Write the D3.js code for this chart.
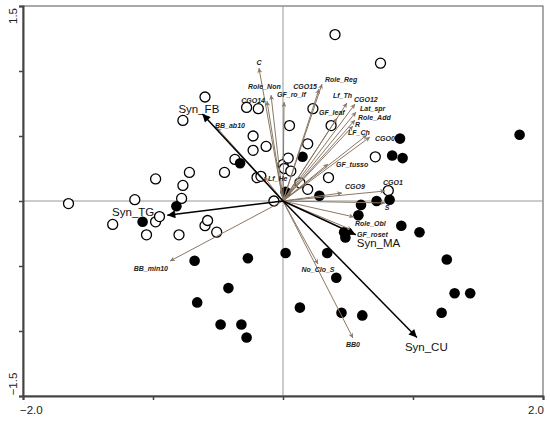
<!DOCTYPE html>
<html>
<head>
<meta charset="utf-8">
<script src="https://cdn.jsdelivr.net/npm/d3@7"></script>
<style>
  body { margin: 0; background: #fff; }
  svg { display: block; font-family: Arial, "Liberation Sans", sans-serif; }
</style>
</head>
<body>
<svg id="chart" width="550" height="421"></svg>
<script>
// sites, group 1 (open circles)
const openPts = [
  [-1.65,-0.02],[-1.31,-0.18],[-1.14,0.01],[-1.05,-0.26],[-0.98,-0.16],[-0.95,-0.12],
  [-0.80,-0.26],[-0.78,0.02],[-0.77,0.12],[-0.98,0.17],[-0.72,0.22],[-0.77,0.62],
  [-0.60,0.80],[-0.60,-0.19],[-0.58,-0.15],[-0.51,-0.24],[-0.45,0.22],[-0.37,0.32],
  [-0.28,0.72],[-0.19,0.71],[-0.23,0.50],[-0.23,0.39],[-0.13,0.42],[-0.20,0.18],
  [-0.17,0.19],[-0.07,0.00],[0.00,0.28],[0.01,0.25],[0.06,0.23],[0.04,0.33],
  [0.05,0.58],[0.13,0.14],[0.19,0.09],[0.19,0.44],[0.23,0.71],[0.37,0.58],
  [0.35,0.18],[0.40,1.28],[0.75,1.06],[0.71,0.34],[0.81,0.08]
]

// sites, group 2 (filled circles)
const filledPts = [
  [-1.08,-0.16],[-0.82,-0.04],[-0.33,0.29],[-0.68,-0.46],[-0.27,-0.44],[-0.42,-0.67],
  [-0.66,-0.78],[-0.48,-0.95],[-0.32,-0.95],[-0.28,-1.05],[0.02,0.07],[0.15,0.34],
  [0.28,0.04],[0.60,-0.03],[0.72,0.00],[0.82,0.01],[0.58,-0.11],[0.90,0.48],
  [0.84,0.35],[0.92,0.33],[1.82,0.51],[0.91,-0.19],[1.05,-0.24],[0.47,-0.24],
  [0.48,-0.28],[0.02,-0.40],[0.34,-0.40],[1.26,-0.45],[0.41,-0.59],[1.32,-0.71],
  [1.44,-0.71],[0.13,-0.82],[0.45,-0.86],[0.61,-0.88],[1.22,-0.86]
]

// trait vectors
const traitNames = ["C","Role_Non","CGO14","GF_ro_lf","CGO15","Role_Reg","Lf_Th","CGO12",
  "GF_leaf","Lat_spr","Role_Add","R","LF_Ch","CGO0","GF_tusso","CGO9","CGO1","S",
  "Role_Obl","GF_roset","No_Clo_S","BB0","BB_min10","BB_ab10","Lf_He"]
const traitX = [-0.185,-0.092,-0.123,0.008,0.277,0.300,0.492,0.554,
  0.415,0.562,0.554,0.538,0.646,0.669,0.346,0.454,0.785,0.785,
  0.546,0.531,0.269,0.538,-0.869,-0.508,-0.146]
const traitY = [1.023,0.815,0.769,0.762,0.862,0.900,0.754,0.746,
  0.638,0.685,0.623,0.577,0.508,0.492,0.285,0.062,0.077,-0.015,
  -0.123,-0.223,-0.485,-1.054,-0.462,0.562,0.185]

// syntaxa vectors
const synNames = ["Syn_FB","Syn_TG","Syn_MA","Syn_CU"]
const synX = [-0.62,-0.89,0.56,1.03]
const synY = [0.67,-0.11,-0.26,-1.05]

// label placement: [dx, dy, anchor]
const traitLab = {
  "C":[0,-3,"middle"], "Role_Non":[-23,-6,"start"], "CGO14":[-2,2,"end"],
  "GF_ro_lf":[-7,-5,"start"], "CGO15":[-2,0,"end"], "Role_Reg":[3,-2,"start"],
  "Lf_Th":[-14,-5,"start"], "CGO12":[-1,-2,"start"], "GF_leaf":[-18,-3,"start"],
  "Lat_spr":[4,-1,"start"], "Role_Add":[3,0,"start"], "R":[2,1,"start"],
  "LF_Ch":[-19,0,"start"], "CGO0":[5,4,"start"], "GF_tusso":[8,3,"start"],
  "CGO9":[3,-4,"start"], "CGO1":[-2,-6,"start"], "S":[2,7,"middle"],
  "Role_Obl":[1,9,"start"], "GF_roset":[5,7,"start"], "No_Clo_S":[0,8,"middle"],
  "BB0":[0,9,"middle"], "BB_min10":[-2,10,"end"], "BB_ab10":[-2,0,"start"],
  "Lf_He":[4,4,"start"]
}
const synLab = { "Syn_FB":[-24,-1,"start"], "Syn_TG":[-13,1,"end"],
  "Syn_MA":[1,12,"start"], "Syn_CU":[-12,13,"start"] }

const svg = d3.select("#chart")

const x = d3.scaleLinear().domain([-2, 2]).range([23, 543])
const y = d3.scaleLinear().domain([-1.5, 1.5]).range([396, 6])

// markers
const defs = svg.append("defs")
defs.append("marker").attr("id", "headGrey")
    .attr("viewBox", "0 0 10 10").attr("refX", 10).attr("refY", 5)
    .attr("markerUnits", "userSpaceOnUse")
    .attr("markerWidth", 6).attr("markerHeight", 5)
    .attr("orient", "auto")
  .append("path").attr("d", "M0,0 L10,5 L0,10 L3,5 Z").attr("fill", "#8a7866")
defs.append("marker").attr("id", "headBlack")
    .attr("viewBox", "0 0 10 10").attr("refX", 10).attr("refY", 5)
    .attr("markerUnits", "userSpaceOnUse")
    .attr("markerWidth", 11).attr("markerHeight", 8)
    .attr("orient", "auto")
  .append("path").attr("d", "M0,0 L10,5 L0,10 Z").attr("fill", "#000")

// frame
svg.append("rect")
    .attr("x", x(-2)).attr("y", y(1.5))
    .attr("width", x(2) - x(-2)).attr("height", y(-1.5) - y(1.5))
    .attr("fill", "none").attr("stroke", "#555").attr("stroke-width", 1)

// zero lines
svg.append("line").attr("x1", x(-2)).attr("x2", x(2)).attr("y1", y(0)).attr("y2", y(0))
    .attr("stroke", "#999").attr("stroke-width", 1)
svg.append("line").attr("x1", x(0)).attr("x2", x(0)).attr("y1", y(1.5)).attr("y2", y(-1.5))
    .attr("stroke", "#999").attr("stroke-width", 1)

// axes
const xAxis = svg.append("g").attr("transform", `translate(0,${y(-1.5)})`)
    .call(d3.axisBottom(x).tickValues([-2, -1, 0, 1, 2]).tickSize(4).tickFormat(""))
const yAxis = svg.append("g").attr("transform", `translate(${x(-2)},0)`)
    .call(d3.axisLeft(y).tickValues([-1.5, -1, -0.5, 0, 0.5, 1, 1.5]).tickSize(4).tickFormat(""))
;[xAxis, yAxis].forEach(a => {
  a.select(".domain").attr("stroke", "#444").attr("stroke-width", 2)
  a.selectAll(".tick line").attr("stroke", "#444").attr("stroke-width", 1.5)
})

// end labels
svg.append("text").attr("x", x(-2) - 3).attr("y", 414).attr("font-size", 11.5)
    .attr("fill", "#222").text("\u22122.0")
svg.append("text").attr("x", x(2) + 1).attr("y", 414).attr("font-size", 11.5)
    .attr("text-anchor", "end").attr("fill", "#222").text("2.0")
svg.append("text").attr("transform", `translate(17,${y(1.5) + 10}) rotate(-90)`)
    .attr("font-size", 11.5).attr("text-anchor", "middle").attr("fill", "#222").text("1.5")
svg.append("text").attr("transform", `translate(17,${y(-1.5) - 12}) rotate(-90)`)
    .attr("font-size", 11.5).attr("text-anchor", "middle").attr("fill", "#222").text("\u22121.5")

// sites
svg.append("g").selectAll("circle")
    .data(openPts).join("circle")
    .attr("cx", d => x(d[0])).attr("cy", d => y(d[1])).attr("r", 5)
    .attr("fill", "#fff").attr("stroke", "#000").attr("stroke-width", 1.3)
svg.append("g").selectAll("circle")
    .data(filledPts).join("circle")
    .attr("cx", d => x(d[0])).attr("cy", d => y(d[1])).attr("r", 5.3)
    .attr("fill", "#000")

// trait arrows
const traits = traitNames.map((n, i) => ({ name: n, vx: traitX[i], vy: traitY[i] }))
svg.append("g").selectAll("line")
    .data(traits).join("line")
    .attr("x1", x(0)).attr("y1", y(0))
    .attr("x2", d => x(d.vx)).attr("y2", d => y(d.vy))
    .attr("stroke", "#8a7866").attr("stroke-width", 1)
    .attr("marker-end", "url(#headGrey)")
svg.append("g").selectAll("text")
    .data(traits).join("text")
    .attr("x", d => x(d.vx) + traitLab[d.name][0])
    .attr("y", d => y(d.vy) + traitLab[d.name][1])
    .attr("text-anchor", d => traitLab[d.name][2])
    .attr("font-size", 7).attr("font-weight", "bold").attr("font-style", "italic")
    .attr("fill", "#222")
    .text(d => d.name)

// syntaxa arrows
const syns = synNames.map((n, i) => ({ name: n, vx: synX[i], vy: synY[i] }))
svg.append("g").selectAll("line")
    .data(syns).join("line")
    .attr("x1", x(0)).attr("y1", y(0))
    .attr("x2", d => x(d.vx)).attr("y2", d => y(d.vy))
    .attr("stroke", "#000").attr("stroke-width", 1.5)
    .attr("marker-end", "url(#headBlack)")
svg.append("g").selectAll("text")
    .data(syns).join("text")
    .attr("x", d => x(d.vx) + synLab[d.name][0])
    .attr("y", d => y(d.vy) + synLab[d.name][1])
    .attr("text-anchor", d => synLab[d.name][2])
    .attr("font-size", 11.5).attr("fill", "#111")
    .text(d => d.name)
</script>
</body>
</html>
